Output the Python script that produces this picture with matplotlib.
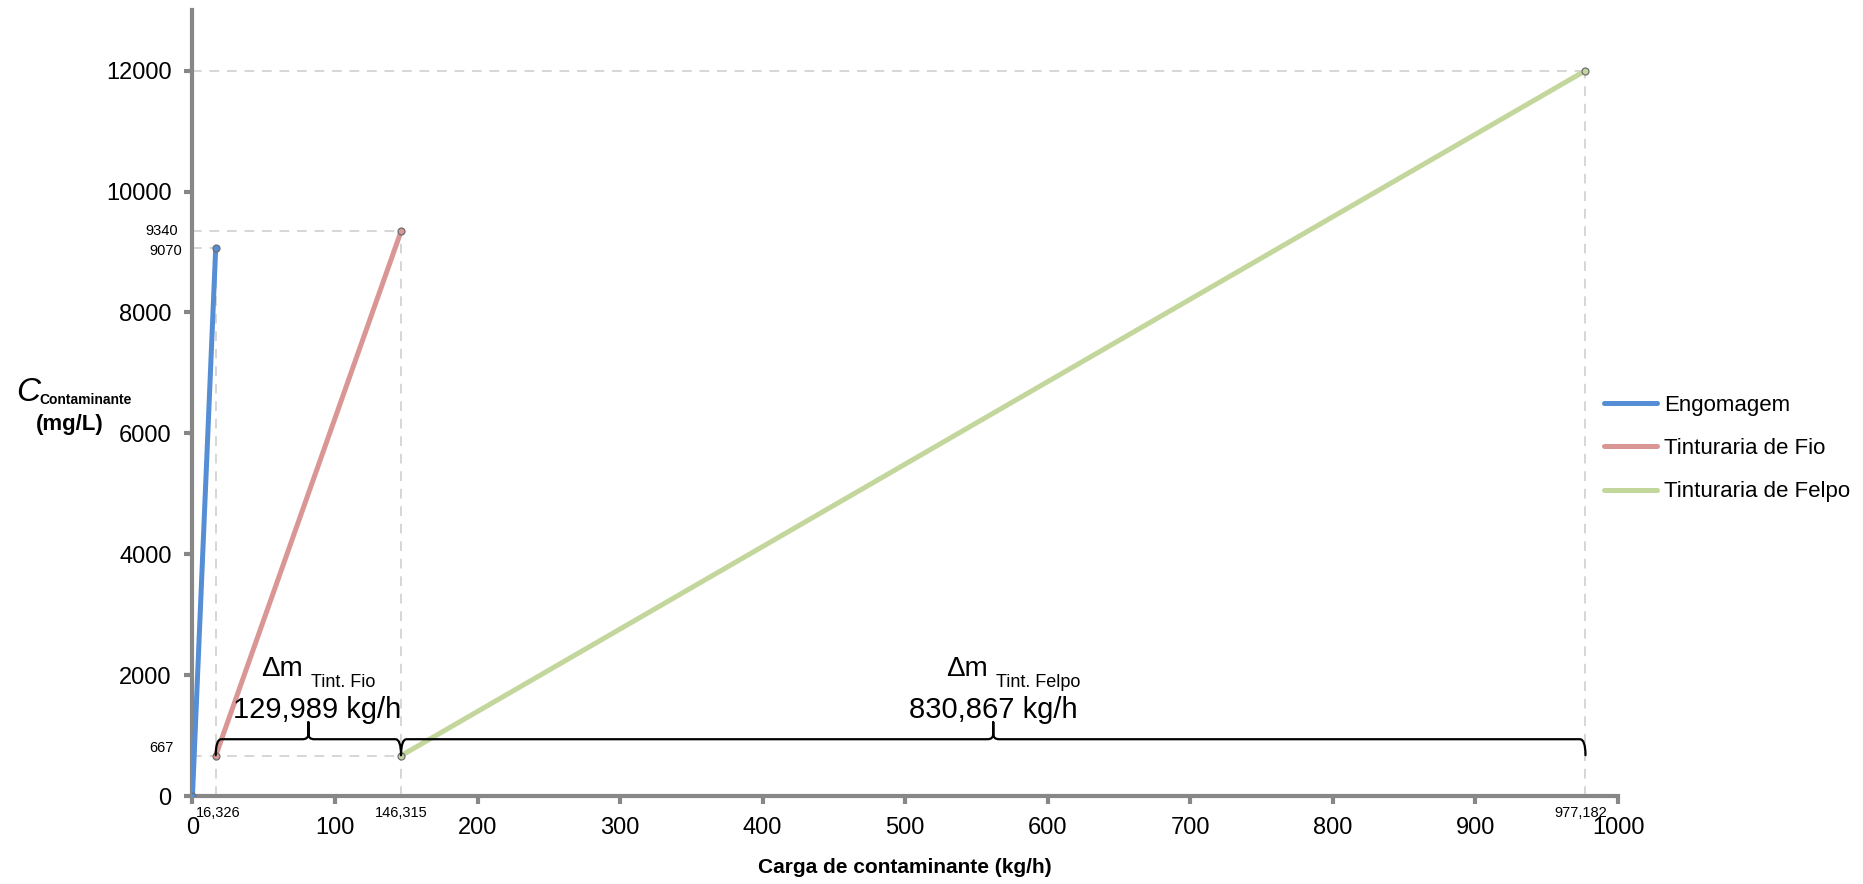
import numpy as np
import matplotlib
matplotlib.use("Agg")
import matplotlib.pyplot as plt
from matplotlib.path import Path
from matplotlib.patches import PathPatch

# ── Data ──────────────────────────────────────────────────────────────────────
SERIES = ["Engomagem", "Tinturaria de Fio", "Tinturaria de Felpo"]
COLORS = ["#558ED5", "#D99694", "#C3D69B"]
X_START = [0.0, 16.326, 146.315]
X_END = [16.326, 146.315, 977.182]
Y_START = [0, 667, 667]
Y_END = [9070, 9340, 12000]

DELTA_LABELS = ["Tint. Fio", "Tint. Felpo"]
DELTA_VALUES = ["129,989 kg/h", "830,867 kg/h"]
VALUE_SHIFT = [6, 0]   # value text nudge (data units) as in the original

XTICKS = np.arange(0, 1001, 100)
YTICKS = np.arange(0, 12001, 2000)

plt.rcParams["font.family"] = ["Liberation Sans", "DejaVu Sans"]

GRAY = "#878787"
GUIDE_KW = dict(color="#D6D6D6", linestyle=(0, (5, 4)), linewidth=1.4, zorder=1)

fig = plt.figure(figsize=(18.63, 8.84), dpi=100)
ax = fig.add_axes([0.1033, 0.0995, 0.7652, 0.889])

# dashed guides
for xs, ys, xe, ye in zip(X_START, Y_START, X_END, Y_END):
    ax.plot([0, xe], [ye, ye], **GUIDE_KW)
    ax.plot([xe, xe], [0, ye], **GUIDE_KW)
ax.plot([0, X_END[1]], [Y_START[1], Y_START[1]], **GUIDE_KW)

# series
for name, c, xs, xe, ys, ye in zip(SERIES, COLORS, X_START, X_END, Y_START, Y_END):
    ax.plot([xs, xe], [ys, ye], color=c, linewidth=3.6, label=name,
            solid_capstyle="round", zorder=3)
    ax.plot([xs, xe], [ys, ye], linestyle="none", marker="o", markersize=5,
            markerfacecolor=c, markeredgecolor="#6E6E6E", markeredgewidth=0.9, zorder=4)


def brace(ax, xa, xb, ytip=676, yline=940, ypeak=1221, r=4.0):
    xm = (xa + xb) / 2
    verts = [
        (xa, ytip), (xa, yline), (xa + r, yline),
        (xm - r, yline), (xm, yline), (xm, yline + 90),
        (xm, ypeak),
        (xm, ypeak), (xm, yline + 90),
        (xm, yline), (xm + r, yline),
        (xb - r, yline), (xb, yline), (xb, ytip),
    ]
    codes = [Path.MOVETO, Path.CURVE3, Path.CURVE3,
             Path.LINETO, Path.CURVE3, Path.CURVE3,
             Path.LINETO,
             Path.MOVETO, Path.LINETO,
             Path.CURVE3, Path.CURVE3,
             Path.LINETO, Path.CURVE3, Path.CURVE3]
    ax.add_patch(PathPatch(Path(verts, codes), fill=False, edgecolor="black",
                           linewidth=1.6, zorder=5, capstyle="round"))


brace(ax, X_START[1], X_END[1])
brace(ax, X_START[2], X_END[2])

# delta annotations
for lab, val, dx, xa, xb in zip(DELTA_LABELS, DELTA_VALUES, VALUE_SHIFT,
                                X_START[1:], X_END[1:]):
    xm = (xa + xb) / 2
    ax.text(xm + dx, 1430, val, ha="center", va="center", fontsize=21, zorder=6)
    ax.annotate("Δm", xy=(xm, 2100), xycoords="data", xytext=(-4, 0),
                textcoords="offset points", ha="right", va="center", fontsize=20)
    ax.annotate(lab, xy=(xm, 1880), xycoords="data", xytext=(2, 0),
                textcoords="offset points", ha="left", va="center", fontsize=13)

# small value labels
ax.text(-10, 9340, "9340", ha="right", va="center", fontsize=10.5, clip_on=False)
ax.text(-7, 9020, "9070", ha="right", va="center", fontsize=10.5, clip_on=False)
ax.text(-13, 790, "667", ha="right", va="center", fontsize=10.5, clip_on=False)
ax.text(X_START[1] + 2, -170, "16,326", ha="center", va="top", fontsize=10.5, clip_on=False)
ax.text(X_END[1], -170, "146,315", ha="center", va="top", fontsize=10.5, clip_on=False)
ax.text(X_END[2] - 3, -170, "977,182", ha="center", va="top", fontsize=10.5, clip_on=False)

# axes styling
ax.set_xlim(0, 1000)
ax.set_ylim(0, 13000)
ax.set_xticks(XTICKS)
ax.set_yticks(YTICKS)
for s in ["top", "right"]:
    ax.spines[s].set_visible(False)
for s in ["left", "bottom"]:
    ax.spines[s].set_color(GRAY)
    ax.spines[s].set_linewidth(3.0)
ax.tick_params(axis="both", direction="out", length=6, width=3, color=GRAY,
               labelsize=17)
ax.tick_params(axis="y", pad=9)
ax.tick_params(axis="x", pad=9)

ax.set_xlabel("Carga de contaminante (kg/h)", fontsize=15, fontweight="bold", labelpad=14)

fig.text(0.0085, 0.556, "C", fontsize=24, fontstyle="italic", ha="left", va="center")
fig.text(0.0212, 0.548, "Contaminante", fontsize=10, fontweight="bold",
         ha="left", va="center")
fig.text(0.0375, 0.520, "(mg/L)", fontsize=16, fontweight="bold", ha="center", va="center")

ax.legend(loc="center left", bbox_to_anchor=(0.99, 0.442), frameon=False,
          fontsize=16, handlelength=2.4, handletextpad=0.3, labelspacing=1.0,
          borderaxespad=0, borderpad=0)

fig.savefig("out.png", dpi=100)
